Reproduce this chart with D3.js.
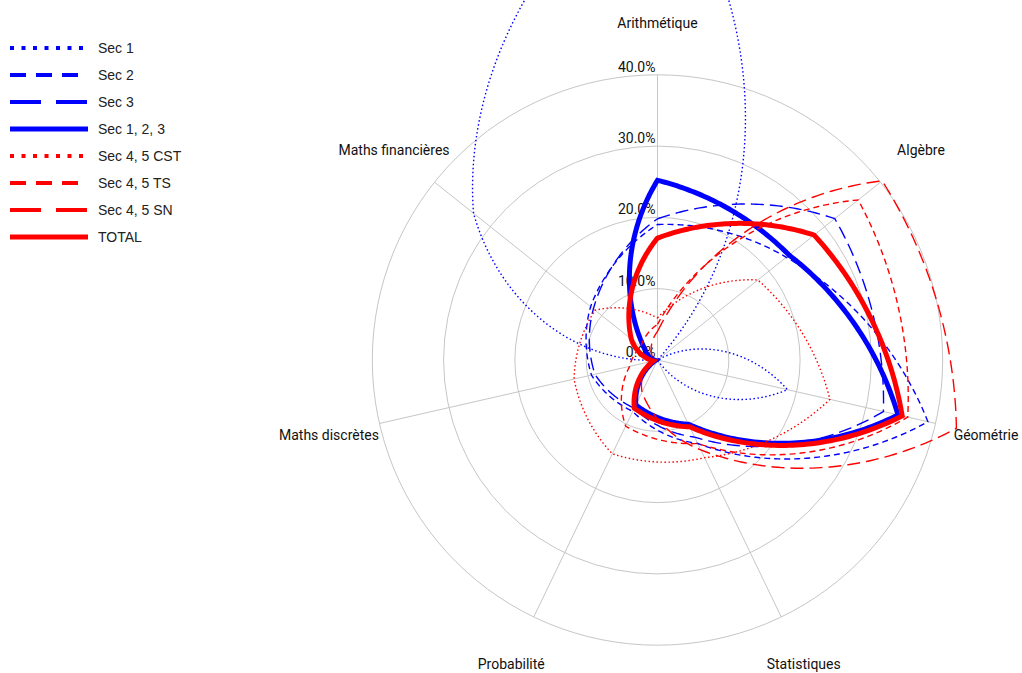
<!DOCTYPE html>
<html><head><meta charset="utf-8">
<script src="https://cdn.jsdelivr.net/npm/d3@7"></script>
<style>html,body{margin:0;padding:0;background:#fff}svg{display:block}</style>
</head><body>
<svg id="chart" width="1022" height="673"></svg>
<script>
// ---------- data ----------
const categories = ["Arithmétique", "Algèbre", "Géométrie", "Statistiques", "Probabilité", "Maths discrètes", "Maths financières"];
const tickValues = [0, 10, 20, 30, 40];
const seriesNames = ["Sec 1", "Sec 2", "Sec 3", "Sec 1, 2, 3", "Sec 4, 5 CST", "Sec 4, 5 TS", "Sec 4, 5 SN", "TOTAL"];
const sec1   = [71.0, 0.0, 18.7, 0.0, 0.0, 0.0, 33.0];
const sec2   = [19.0, 23.1, 38.9, 13.0, 8.0, 9.5, 12.0];
const sec3   = [19.8, 31.8, 32.5, 12.0, 7.5, 9.0, 11.5];
const sec123 = [25.2, 23.6, 34.6, 10.0, 7.0, 0.3, 2.2];
const cst    = [5.9, 18.0, 24.8, 15.2, 14.6, 12.0, 11.2];
const ts     = [5.0, 36.0, 36.0, 13.0, 10.3, 4.0, 3.0];
const sn     = [4.0, 40.3, 43.0, 14.0, 5.0, 1.0, 1.0];
const total  = [17.1, 28.1, 35.2, 10.4, 7.5, 0.6, 4.7];
const seriesValues = [sec1, sec2, sec3, sec123, cst, ts, sn, total];

// ---------- styles ----------
const BLUE = "#0000ff", RED = "#ff0000";
const styles = [
  {color: BLUE, width: 1.4, dash: "1.5,2.5", legDash: "4,7.5", legWidth: 4, bend: 0.8},
  {color: BLUE, width: 1.4, dash: "6,4",     legDash: "16,10", legWidth: 4, bend: 0.6},
  {color: BLUE, width: 1.4, dash: "13,6",    legDash: "31,15", legWidth: 4, bend: 0.6},
  {color: BLUE, width: 5,   dash: null,      legDash: null,    legWidth: 5, bend: 0.6},
  {color: RED,  width: 1.4, dash: "1.5,2.5", legDash: "4,7.5", legWidth: 4, bend: 0.6},
  {color: RED,  width: 1.4, dash: "6,4",     legDash: "16,10", legWidth: 4, bend: 0.6},
  {color: RED,  width: 1.4, dash: "13,6",    legDash: "31,15", legWidth: 4, bend: 0.6},
  {color: RED,  width: 5,   dash: null,      legDash: null,    legWidth: 5, bend: 0.6}
];

const svg = d3.select("#chart");
const cx = 657.5, cy = 360;
const r = d3.scaleLinear().domain([0, 40]).range([0, 285.2]);
const angle = d3.scaleLinear().domain([0, categories.length]).range([0, 2 * Math.PI]);
const px = (a, rad) => cx + rad * Math.sin(a);
const py = (a, rad) => cy - rad * Math.cos(a);

// ---------- grid ----------
const grid = svg.append("g");
grid.selectAll("circle").data(tickValues.filter(d => d > 0)).join("circle")
  .attr("cx", cx).attr("cy", cy).attr("r", d => r(d))
  .attr("fill", "none").attr("stroke", "#c6c6c6").attr("stroke-width", 1);
grid.selectAll("line").data(categories).join("line")
  .attr("x1", cx).attr("y1", cy)
  .attr("x2", (d, i) => px(angle(i), r(40))).attr("y2", (d, i) => py(angle(i), r(40)))
  .attr("stroke", "#c6c6c6").attr("stroke-width", 1);

// tick labels
svg.append("g").selectAll("text").data(tickValues).join("text")
  .attr("x", cx - 2).attr("y", d => cy - r(d) - 3)
  .attr("text-anchor", "end")
  .attr("font-family", "Roboto, sans-serif").attr("font-size", 14).attr("fill", "#111")
  .text(d => d3.format(".1f")(d) + "%");

// axis labels
svg.append("g").selectAll("text").data(categories).join("text")
  .attr("x", (d, i) => px(angle(i), 337)).attr("y", (d, i) => py(angle(i), 337))
  .attr("text-anchor", "middle").attr("dominant-baseline", "central")
  .attr("font-family", "Roboto, sans-serif").attr("font-size", 14).attr("fill", "#111")
  .text(d => d);

// ---------- series ----------
const STEPS = 60;
function seriesPoints(vals, W) {
  const pts = [];
  const n = vals.length;
  for (let i = 0; i < n; i++) {
    const a0 = angle(i), a1 = angle(i + 1);
    const r0 = r(vals[i]), r1 = r(vals[(i + 1) % n]);
    const x0 = px(a0, r0), y0 = py(a0, r0), x1 = px(a1, r1), y1 = py(a1, r1);
    for (let s = 0; s < STEPS; s++) {
      const t = s / STEPS;
      const a = a0 + (a1 - a0) * t, rr = r0 + (r1 - r0) * t;
      const sx = px(a, rr), sy = py(a, rr);
      const lx = x0 + (x1 - x0) * t, ly = y0 + (y1 - y0) * t;
      pts.push([W * sx + (1 - W) * lx, W * sy + (1 - W) * ly]);
    }
  }
  return pts;
}
const line = d3.line().curve(d3.curveLinearClosed);
svg.append("g").selectAll("path").data(seriesValues).join("path")
  .attr("d", (d, i) => line(seriesPoints(d, styles[i].bend)))
  .attr("fill", "none")
  .attr("stroke", (d, i) => styles[i].color)
  .attr("stroke-width", (d, i) => styles[i].width)
  .attr("stroke-dasharray", (d, i) => styles[i].dash)
  .attr("stroke-linejoin", "miter");

// ---------- legend ----------
const leg = svg.append("g").selectAll("g").data(seriesNames).join("g")
  .attr("transform", (d, i) => `translate(0, ${48 + i * 27})`);
leg.append("line").attr("x1", 10).attr("x2", 88).attr("y1", 0).attr("y2", 0)
  .attr("stroke", (d, i) => styles[i].color)
  .attr("stroke-width", (d, i) => styles[i].legWidth)
  .attr("stroke-dasharray", (d, i) => styles[i].legDash);
leg.append("text").attr("x", 98).attr("y", 0).attr("dominant-baseline", "central")
  .attr("font-family", "'Liberation Sans', Arial, sans-serif").attr("font-size", 14).attr("fill", "#222")
  .text(d => d);
</script>
</body></html>
